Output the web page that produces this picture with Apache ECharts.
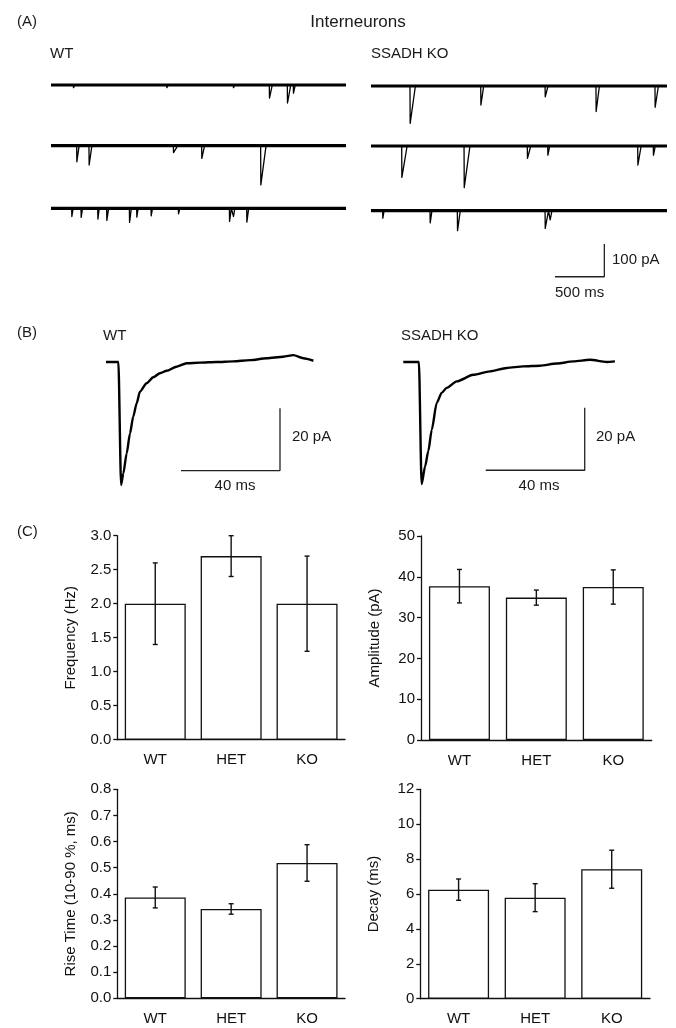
<!DOCTYPE html>
<html><head><meta charset="utf-8">
<script src="https://cdn.jsdelivr.net/npm/echarts@6/dist/echarts.min.js"></script>
<style>html,body{margin:0;padding:0;background:#fff}#c{width:676px;height:1028px}</style>
</head><body><div id="c"></div>
<script>
// ---------- Panel C data ----------
const groups = ['WT', 'HET', 'KO'];
const freqMean = [2.0, 2.7, 2.0];
const freqSem = [0.6, 0.3, 0.7];
const ampMean = [37.7, 34.9, 37.5];
const ampSem = [4.1, 1.85, 4.2];
const riseMean = [0.386, 0.342, 0.518];
const riseSem = [0.04, 0.02, 0.07];
const decayMean = [6.25, 5.79, 7.42];
const decaySem = [0.61, 0.8, 1.09];

// ---------- Panel A data: events [time ms, amplitude pA, decay ms] ----------
const wtRow1Events = [[227, 8, 15], [1176, 8, 15], [1854, 8, 15], [2220, 40, 30], [2403, 55, 35], [2464, 25, 20]];
const wtRow2Events = [[261, 49, 25], [386, 59, 30], [1244, 21, 45], [1532, 39, 30], [2132, 120, 55]];
const wtRow3Events = [[210, 25, 15], [305, 28, 15], [475, 33, 15], [566, 37, 20], [797, 43, 20], [871, 27, 15], [1017, 23, 15], [1295, 17, 15], [1814, 40, 20], [1854, 25, 15], [1990, 42, 20]];
const koRow1Events = [[395, 114, 55], [1112, 58, 30], [1764, 33, 30], [2280, 78, 35], [2878, 65, 35]];
const koRow2Events = [[311, 96, 55], [943, 127, 60], [1584, 38, 35], [1791, 28, 20], [2703, 58, 35], [2861, 28, 20]];
const koRow3Events = [[118, 23, 15], [598, 37, 20], [875, 61, 30], [1764, 54, 35], [1814, 28, 20]];
const traceScaleBarA = [[1865, -202], [2365, -202], [2365, -102]]; // 500 ms, 100 pA

// ---------- Panel B data: averaged events [time ms, current pA] ----------
const wtAvg = [[0,0],[5,0],[6.1,-39.4],[7,-35.7],[8.35,-29.3],[9.7,-22.9],[11,-17.5],[12.4,-13.2],[13.7,-9.5],[16.4,-6.8],[19.1,-4.9],[21.8,-3.6],[24.5,-2.8],[28.5,-1.5],[32.6,-0.4],[38,-0.2],[44.7,0],[51.4,0.2],[58.2,0.6],[64.9,1.2],[71.6,1.7],[75.7,2.2],[79.7,1.2],[83.8,0.4]];
const koAvg = [[0,0],[6.3,0],[7.4,-39.1],[8.8,-33.5],[10.1,-28.6],[11.5,-21.7],[13.5,-13.1],[15.5,-9.9],[17.5,-8.3],[21.6,-6.2],[28.3,-4.1],[35,-3.0],[41.8,-1.9],[48.5,-1.4],[55.2,-1.2],[62,-0.5],[68.7,0.2],[75.4,0.7],[82.2,0],[85.5,0.2]];
const wtScaleBarB = [[30.3, -34.8], [70.3, -34.8], [70.3, -14.8]]; // 40 ms, 20 pA
const koScaleBarB = [[33.3, -34.7], [73.3, -34.7], [73.3, -14.7]];

const FONT = '"Liberation Sans", Arial, Helvetica, sans-serif';
const INK = '#111';

function traceData(events) {
  const pts = [[0, 0]];
  events.forEach(([t, a, d]) => { pts.push([t, 0], [t + 2, -a], [t + d, 0]); });
  pts.push([3000, 0]);
  return pts;
}

const grids = [], xAxes = [], yAxes = [], series = [];

// Panel A grids
const aGrids = [
  {left: 51, width: 295, top: 75.2, ev: wtRow1Events},
  {left: 51, width: 295, top: 135.9, ev: wtRow2Events},
  {left: 51, width: 295, top: 198.5, ev: wtRow3Events},
  {left: 371, width: 296, top: 76.2, ev: koRow1Events},
  {left: 371, width: 296, top: 136.2, ev: koRow2Events},
  {left: 371, width: 296, top: 200.9, ev: koRow3Events, bar: traceScaleBarA}
];
aGrids.forEach(g => {
  const i = grids.length;
  grids.push({left: g.left, width: g.width, top: g.top, height: 81.75});
  xAxes.push({type: 'value', gridIndex: i, min: 0, max: 3000, show: false});
  yAxes.push({type: 'value', gridIndex: i, min: -220, max: 30, show: false});
  // recording noise band along the baseline
  series.push({type: 'line', xAxisIndex: i, yAxisIndex: i, data: [[0, 0], [3000, 0]], showSymbol: false, clip: false,
    lineStyle: {color: '#000', width: 3.2}, animation: false});
  series.push({type: 'line', xAxisIndex: i, yAxisIndex: i, data: traceData(g.ev), showSymbol: false, clip: false,
    lineStyle: {color: '#000', width: 1.3, join: 'round'}, animation: false});
  if (g.bar) series.push({type: 'line', xAxisIndex: i, yAxisIndex: i, data: g.bar, showSymbol: false, clip: false,
    lineStyle: {color: '#222', width: 1.3}, animation: false});
});

// Panel B grids
const bGrids = [
  {left: 106, data: wtAvg, bar: wtScaleBarB},
  {left: 403.3, data: koAvg, bar: koScaleBarB}
];
bGrids.forEach(g => {
  const i = grids.length;
  grids.push({left: g.left, width: 247.5, top: 346.4, height: 156});
  xAxes.push({type: 'value', gridIndex: i, min: 0, max: 100, show: false});
  yAxes.push({type: 'value', gridIndex: i, min: -45, max: 5, show: false});
  series.push({type: 'line', xAxisIndex: i, yAxisIndex: i, data: g.data, showSymbol: false, clip: false,
    smooth: 0.25, smoothMonotone: 'x',
    lineStyle: {color: '#000', width: 2.4, join: 'round'}, animation: false});
  series.push({type: 'line', xAxisIndex: i, yAxisIndex: i, data: g.bar, showSymbol: false, clip: false,
    lineStyle: {color: '#222', width: 1.3}, animation: false});
});

// Panel C grids
const cGrids = [
  {left: 117.3, width: 227.7, top: 535.7, height: 204, max: 3, interval: 0.5, dec: 1, name: 'Frequency (Hz)', mean: freqMean, sem: freqSem},
  {left: 421, width: 230.7, top: 536, height: 204, max: 50, interval: 10, dec: 0, name: 'Amplitude (pA)', mean: ampMean, sem: ampSem},
  {left: 117.3, width: 227.7, top: 789.3, height: 209, max: 0.8, interval: 0.1, dec: 1, name: 'Rise Time (10-90 %, ms)', mean: riseMean, sem: riseSem},
  {left: 420.3, width: 229.7, top: 789.3, height: 209.4, max: 12, interval: 2, dec: 0, name: 'Decay (ms)', mean: decayMean, sem: decaySem}
];
cGrids.forEach(g => {
  const i = grids.length;
  grids.push({left: g.left, width: g.width, top: g.top, height: g.height});
  xAxes.push({type: 'category', gridIndex: i, data: groups, boundaryGap: true,
    axisLine: {lineStyle: {color: INK, width: 1.3}},
    axisTick: {alignWithLabel: true, length: 4, lineStyle: {color: INK, width: 1.3}},
    axisLabel: {color: INK, fontSize: 15, fontFamily: FONT, margin: 13},
    splitLine: {show: false}});
  yAxes.push({type: 'value', gridIndex: i, min: 0, max: g.max, interval: g.interval,
    name: g.name, nameLocation: 'middle', nameRotate: 90, nameGap: 39,
    nameTextStyle: {color: INK, fontSize: 15, fontFamily: FONT},
    axisLine: {show: true, lineStyle: {color: INK, width: 1.3}},
    axisTick: {show: true, length: 4, lineStyle: {color: INK, width: 1.3}},
    axisLabel: {color: INK, fontSize: 15, fontFamily: FONT, margin: 6, formatter: v => v.toFixed(g.dec)},
    splitLine: {show: false}});
  series.push({type: 'bar', xAxisIndex: i, yAxisIndex: i, data: g.mean, barWidth: 61,
    itemStyle: {color: '#fff', borderColor: INK, borderWidth: 1.3}, animation: false});
  series.push({type: 'custom', xAxisIndex: i, yAxisIndex: i, z: 5, animation: false,
    data: g.mean.map((m, k) => [k, m - g.sem[k], m + g.sem[k]]),
    encode: {x: 0, y: [1, 2]},
    renderItem: (params, api) => {
      const lo = api.coord([api.value(0), api.value(1)]);
      const hi = api.coord([api.value(0), api.value(2)]);
      const w = 2.5, st = {stroke: INK, lineWidth: 1.4};
      return {type: 'group', children: [
        {type: 'line', shape: {x1: lo[0], y1: lo[1], x2: hi[0], y2: hi[1]}, style: st},
        {type: 'line', shape: {x1: lo[0] - w, y1: lo[1], x2: lo[0] + w, y2: lo[1]}, style: st},
        {type: 'line', shape: {x1: hi[0] - w, y1: hi[1], x2: hi[0] + w, y2: hi[1]}, style: st}
      ]};
    }});
});

function txt(text, x, y, size, align) {
  return {type: 'text', x: x, y: y, style: {text: text, fill: '#1a1a1a', font: size + 'px ' + FONT,
    textAlign: align || 'left', textVerticalAlign: 'middle'}};
}
const graphics = [
  txt('(A)', 17, 22, 15), txt('Interneurons', 358, 22, 17, 'center'),
  txt('WT', 50, 54, 15), txt('SSADH KO', 371, 54, 15),
  txt('100 pA', 612, 260, 15), txt('500 ms', 555, 293, 15),
  txt('(B)', 17, 333, 15), txt('WT', 103, 336, 15), txt('SSADH KO', 401, 336, 15),
  txt('20 pA', 292, 437, 15), txt('40 ms', 235, 486, 15, 'center'),
  txt('20 pA', 596, 437, 15), txt('40 ms', 539, 486, 15, 'center'),
  txt('(C)', 17, 532, 15)
];

const chart = echarts.init(document.getElementById('c'), null, {renderer: 'canvas', devicePixelRatio: 1});
chart.setOption({
  animation: false, backgroundColor: '#fff',
  grid: grids, xAxis: xAxes, yAxis: yAxes, series: series, graphic: graphics
});
</script></body></html>
